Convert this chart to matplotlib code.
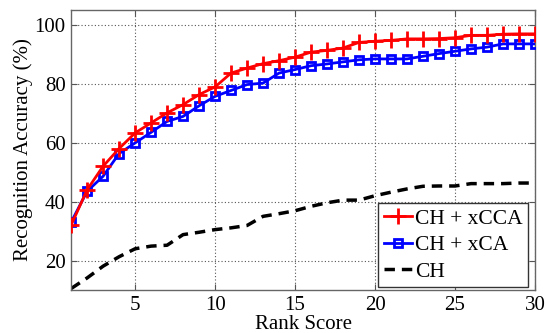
#!/usr/bin/env python
# -*- coding: utf-8 -*-

import matplotlib
matplotlib.use("Agg")
from matplotlib import pyplot as plt

rank = list(range(1, 31))
xcca = [32, 44, 52, 58, 63.3, 66.7, 70.1, 72.9, 76.3, 78.9,
        83.6, 85.3, 86.8, 87.8, 89.0, 90.7, 91.3, 92.1, 94.0, 94.4,
        94.7, 95.2, 95.2, 95.3, 95.6, 96.4, 96.4, 96.8, 96.9, 96.9]
xca = [33, 43.5, 48.6, 56.3, 59.9, 63.5, 67.2, 68.9, 72.5, 75.7,
       77.7, 79.7, 80.2, 83.6, 84.8, 86.1, 86.7, 87.4, 88.1, 88.4,
       88.4, 88.4, 89.3, 90.2, 91.0, 91.8, 92.4, 93.5, 93.5, 93.5]
ch = [10.5, 14.1, 18.1, 21.3, 24.0, 24.9, 25.2, 28.8, 29.6, 30.5,
      31.1, 31.9, 35.0, 35.9, 36.9, 38.4, 39.6, 40.5, 40.5, 42.0,
      43.2, 44.3, 45.2, 45.3, 45.3, 46.1, 46.1, 46.1, 46.3, 46.3]
labels = ['CH + xCCA', 'CH + xCA', 'CH']

plt.rcParams['font.family'] = ['Liberation Serif', 'DejaVu Serif']
plt.rcParams['font.size'] = 15

fig = plt.figure(figsize=(5.47, 3.33), dpi=100)
ax = fig.add_axes([0.13, 0.129, 0.848, 0.841])

ax.plot(rank, xcca, color='#ff0000', lw=2, marker='+', ms=11, mew=2,
        label=labels[0], zorder=4)
ax.plot(rank, xca, color='#0000ff', lw=2, marker='s', ms=6, mew=2,
        mfc='none', label=labels[1], zorder=3)
ax.plot(rank, ch, color='black', lw=2.5, ls=(0, (3, 2)), label=labels[2],
        zorder=2)

ax.set_xlim(1, 30)
ax.set_ylim(10, 105)
ax.set_xticks([5, 10, 15, 20, 25, 30])
ax.set_yticks([20, 40, 60, 80, 100])
ax.grid(True, ls=(0, (1, 2)), color='#555555', lw=0.8)
ax.tick_params(direction='in', length=4, top=True, right=True,
               color='#555555', pad=4)
for s in ax.spines.values():
    s.set_color('#666666')
    s.set_linewidth(1)

ax.set_xlabel('Rank Score', labelpad=0)
ax.set_ylabel('Recognition Accuracy (%)', labelpad=1)

leg = ax.legend(loc='lower right', bbox_to_anchor=(0.985, 0.011),
                borderaxespad=0, fancybox=False, edgecolor='#333333',
                handlelength=1.3, handletextpad=0.15, borderpad=0.25,
                labelspacing=0.3, framealpha=1, prop={'size': 15.5})
leg.get_frame().set_linewidth(1)

plt.savefig('out.png', dpi=100)
